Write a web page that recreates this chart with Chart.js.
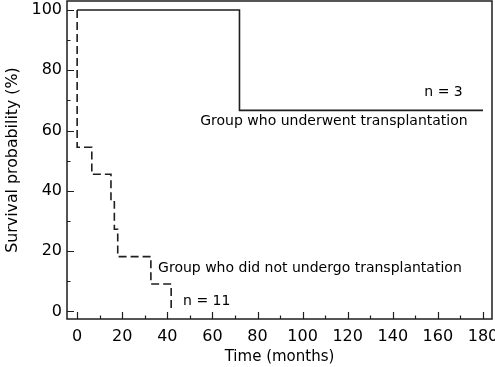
<!DOCTYPE html>
<html><head><meta charset="utf-8">
<script src="https://cdn.jsdelivr.net/npm/chart.js@4/dist/chart.umd.min.js"></script>
<style>html,body{margin:0;padding:0;background:#fff}#wrap{width:495px;height:367px}</style>
</head><body><div id="wrap"><canvas id="c" width="495" height="367"></canvas></div>
<script>
// Kaplan-Meier survival data (months, %)
const transplantTimes = [0, 72, 180];
const transplantSurvival = [100, 66.7, 66.7];
const noTransplantTimes = [0, 0, 6.5, 15, 16.5, 18, 32.7, 41.7];
const noTransplantSurvival = [100, 54.5, 45.5, 36.4, 27.3, 18.2, 9.1, 0];
const xTickValues = [0, 20, 40, 60, 80, 100, 120, 140, 160, 180];
const yTickValues = [0, 20, 40, 60, 80, 100];
const labelTexts = ['n = 3', 'Group who underwent transplantation', 'Group who did not undergo transplantation', 'n = 11'];
const labelAnchorX = [154, 54.6, 35.9, 47];
const labelAnchorY = [72.8, 63, 14.4, 3.5];

const INK = '#1e1e1e';
const FONT = '"DejaVu Sans", Verdana, sans-serif';

const toPoints = (xs, ys) => xs.map((x, i) => ({x, y: ys[i]}));

const framePlugin = {
  id: 'frame',
  afterDatasetsDraw(chart) {
    const ctx = chart.ctx, a = chart.chartArea;
    const xs = chart.scales.x, ys = chart.scales.y;
    ctx.save();
    ctx.strokeStyle = INK;
    ctx.lineWidth = 1.5;
    ctx.setLineDash([]);
    ctx.strokeRect(a.left, a.top, a.right - a.left, a.bottom - a.top);
    ctx.lineWidth = 1.2;
    ctx.beginPath();
    for (let v = 0; v <= 180; v += 10) {
      const px = Math.round(xs.getPixelForValue(v)) + 0.5;
      const len = v % 20 === 0 ? 7 : 3.5;
      ctx.moveTo(px, a.bottom); ctx.lineTo(px, a.bottom - len);
    }
    for (let v = 0; v <= 100; v += 10) {
      const py = Math.round(ys.getPixelForValue(v)) + 0.5;
      const len = v % 20 === 0 ? 7 : 3.5;
      ctx.moveTo(a.left, py); ctx.lineTo(a.left + len, py);
    }
    ctx.stroke();
    ctx.fillStyle = '#000';
    ctx.font = '14px ' + FONT;
    ctx.textAlign = 'left';
    ctx.textBaseline = 'middle';
    labelTexts.forEach((t, i) => {
      ctx.fillText(t, xs.getPixelForValue(labelAnchorX[i]), ys.getPixelForValue(labelAnchorY[i]));
    });
    ctx.restore();
  }
};

new Chart(document.getElementById('c'), {
  type: 'line',
  data: {
    datasets: [
      {
        label: 'Group who underwent transplantation',
        data: toPoints(transplantTimes, transplantSurvival),
        stepped: true, borderColor: INK, borderWidth: 1.6, pointRadius: 0, fill: false
      },
      {
        label: 'Group who did not undergo transplantation',
        data: toPoints(noTransplantTimes, noTransplantSurvival),
        stepped: true, borderColor: INK, borderWidth: 1.6, borderDash: [8, 4], pointRadius: 0, fill: false
      }
    ]
  },
  options: {
    responsive: false,
    animation: false,
    devicePixelRatio: 1,
    layout: {padding: {top: 1, right: 3, bottom: 0, left: 0}, autoPadding: false},
    plugins: {legend: {display: false}, tooltip: {enabled: false}},
    scales: {
      x: {
        type: 'linear', min: -4.5, max: 184,
        afterFit(s) { s.height = 48; s.paddingLeft = 0; s.paddingRight = 0; },
        afterBuildTicks(s) { s.ticks = xTickValues.map(v => ({value: v})); },
        grid: {display: false, drawTicks: false},
        border: {display: false},
        ticks: {autoSkip: false, maxRotation: 0, padding: 8, color: '#000', font: {family: FONT, size: 16}},
        title: {display: true, text: 'Time (months)', color: '#000', font: {family: FONT, size: 15}, padding: {top: 0, bottom: 1}}
      },
      y: {
        type: 'linear', min: -2.5, max: 103,
        afterFit(s) { s.width = 67; s.paddingTop = 0; s.paddingBottom = 0; },
        afterBuildTicks(s) { s.ticks = yTickValues.map(v => ({value: v})); },
        grid: {display: false, drawTicks: false},
        border: {display: false},
        ticks: {autoSkip: false, padding: 5, color: '#000', font: {family: FONT, size: 16}},
        title: {display: true, text: 'Survival probability (%)', color: '#000', font: {family: FONT, size: 15.8}, padding: {top: 3.5, bottom: 0}}
      }
    }
  },
  plugins: [framePlugin]
});
</script></body></html>
